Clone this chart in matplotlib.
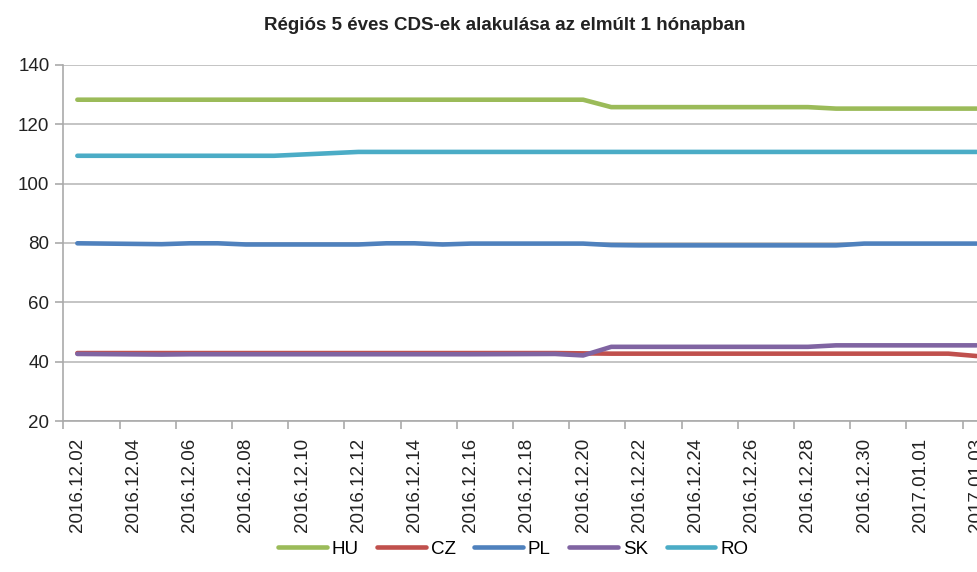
import numpy as np
import matplotlib
matplotlib.use("Agg")
import matplotlib.pyplot as plt
from datetime import datetime, timedelta

plt.rcParams['font.family'] = ['Liberation Sans', 'DejaVu Sans']

# trading days shown in the chart
dates = ["2016.12.02", "2016.12.05", "2016.12.06", "2016.12.07", "2016.12.08",
         "2016.12.09", "2016.12.12", "2016.12.13", "2016.12.14", "2016.12.15",
         "2016.12.16", "2016.12.19", "2016.12.20", "2016.12.21", "2016.12.22",
         "2016.12.23", "2016.12.27", "2016.12.28", "2016.12.29", "2016.12.30",
         "2017.01.02", "2017.01.03"]

hu = [128.3, 128.3, 128.3, 128.3, 128.3, 128.3, 128.3, 128.3, 128.3, 128.3,
      128.3, 128.3, 128.3, 125.8, 125.8, 125.8, 125.8, 125.8, 125.3, 125.3,
      125.3, 125.3]
cz = [42.9, 42.9, 42.9, 42.9, 42.9, 42.9, 42.9, 42.9, 42.9, 42.9,
      42.9, 42.9, 42.8, 42.7, 42.7, 42.7, 42.7, 42.7, 42.7, 42.7,
      42.7, 41.9]
pl = [79.9, 79.6, 79.9, 79.9, 79.5, 79.5, 79.5, 79.9, 79.9, 79.5,
      79.8, 79.8, 79.8, 79.3, 79.2, 79.2, 79.2, 79.2, 79.2, 79.8,
      79.8, 79.8]
sk = [42.6, 42.4, 42.5, 42.5, 42.5, 42.5, 42.5, 42.5, 42.5, 42.5,
      42.5, 42.6, 42.1, 45.0, 45.0, 45.0, 45.0, 45.0, 45.5, 45.5,
      45.5, 45.5]
ro = [109.4, 109.4, 109.4, 109.4, 109.4, 109.4, 110.7, 110.7, 110.7, 110.7,
      110.7, 110.7, 110.7, 110.7, 110.7, 110.7, 110.7, 110.7, 110.7, 110.7,
      110.7, 110.7]

series = [("HU", hu, "#9BBB59"), ("CZ", cz, "#C0504D"), ("PL", pl, "#4F81BD"),
          ("SK", sk, "#8064A2"), ("RO", ro, "#4BACC6")]

x = [datetime.strptime(d, "%Y.%m.%d") for d in dates]
start = x[0]
half = timedelta(hours=12)

fig = plt.figure(figsize=(9.78, 5.72), dpi=100)
# the original chart is wider than the picture, so the axes run past the right edge
ax = fig.add_axes([63.3 / 978, 151 / 572, 34 * 28.1 / 978, 356 / 572])

for name, vals, col in series:
    ax.plot(x, vals, color=col, lw=3.3, label=name, solid_capstyle='round')

ax.set_ylim(20, 140)
ax.set_yticks(np.arange(20, 141, 20))
ax.set_xlim(start - half, start + timedelta(days=34) - half)

label_days = [start + timedelta(days=2 * i) for i in range(17)]
ax.set_xticks(label_days)
ax.set_xticklabels([d.strftime("%Y.%m.%d") for d in label_days], rotation=90)
ax.set_xticks([d - half for d in label_days], minor=True)
ax.tick_params(axis='x', which='major', length=0, pad=12, labelsize=13.5,
               colors='#222222')
ax.tick_params(axis='x', which='minor', length=6, color='#aaaaaa', width=1.2)
ax.tick_params(axis='y', length=6, color='#aaaaaa', width=1.2, labelsize=13.5,
               pad=4, labelcolor='#222222')

ax.grid(axis='y', color='#bfbfbf', lw=1.3)
ax.set_axisbelow(True)
for s in ['top', 'right']:
    ax.spines[s].set_visible(False)
for s in ['left', 'bottom']:
    ax.spines[s].set_color('#aaaaaa')
    ax.spines[s].set_linewidth(1.2)

fig.text(505 / 978, 1 - 25 / 572, "Régiós 5 éves CDS-ek alakulása az elmúlt 1 hónapban",
         ha='center', va='center', fontsize=13.5, fontweight='bold', color='#222222')

fig.legend(loc='center', bbox_to_anchor=(513 / 978, 1 - 549 / 572), ncol=5,
           frameon=False, fontsize=13.5, handlelength=2.6, handletextpad=0.25,
           columnspacing=1.0)

fig.savefig("out.png", dpi=100)
